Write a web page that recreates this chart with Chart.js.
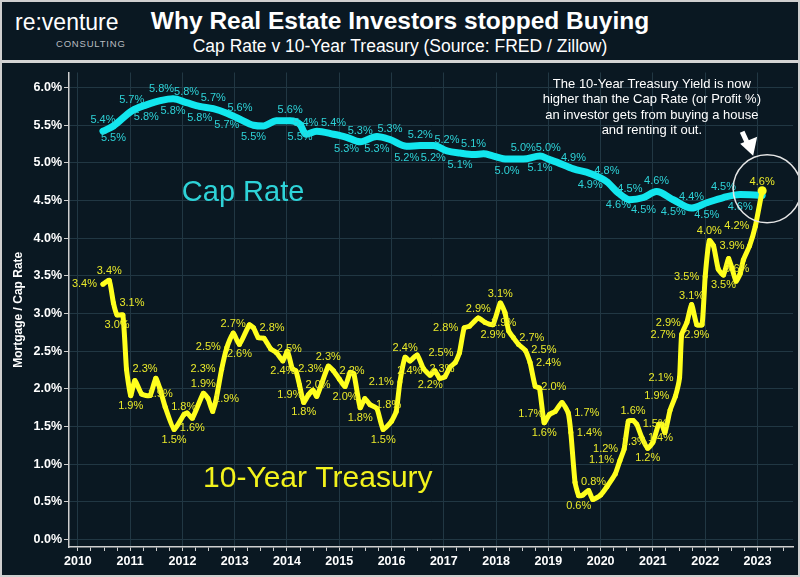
<!DOCTYPE html>
<html>
<head>
<meta charset="utf-8">
<script src="https://cdn.jsdelivr.net/npm/chart.js@4.4.1/dist/chart.umd.min.js"></script>
<style>
  html, body { margin: 0; padding: 0; background: #0a1822; }
  #wrap { position: absolute; left: 0; top: 0; width: 800px; height: 577px; box-sizing: border-box;
          border: 2px solid #cfcfcf; background: #0a1822; font-family: Arial, "Liberation Sans", sans-serif; }
  #head { position: relative; height: 58px; border-bottom: 3px solid #d4d4d4; }
  #logo1 { position: absolute; left: 13px; top: 7px; color: #fff; font-size: 23px; }
  #logo2 { position: absolute; left: 54px; top: 36px; color: #b8bcc0; font-size: 9.5px; letter-spacing: 0.8px; }
  #title { position: absolute; left: 0; width: 796px; top: 5px; text-align: center; color: #fff;
           font-size: 24.5px; font-weight: bold; }
  #sub { position: absolute; left: 0; width: 796px; top: 34px; text-align: center; color: #fff; font-size: 17.5px; }
  #box { position: relative; width: 796px; height: 512px; }
</style>
</head>
<body>
<div id="wrap">
  <div id="head">
    <div id="logo1">re:venture</div>
    <div id="logo2">CONSULTING</div>
    <div id="title">Why Real Estate Investors stopped Buying</div>
    <div id="sub">Cap Rate v 10-Year Treasury (Source: FRED / Zillow)</div>
  </div>
  <div id="box"><canvas id="chart"></canvas></div>
</div>
<script>
// cap rate (Zillow)
const capYears = [2010.48, 2010.68, 2011.03, 2011.31, 2011.60, 2011.82, 2012.08, 2012.33, 2012.59, 2012.85,
  2013.10, 2013.36, 2013.55, 2013.80, 2014.06, 2014.25, 2014.36, 2014.57, 2014.89, 2015.14,
  2015.40, 2015.72, 2015.97, 2016.29, 2016.55, 2016.80, 2017.06, 2017.31, 2017.57, 2017.76,
  2017.95, 2018.21, 2018.52, 2018.84, 2019.00, 2019.16, 2019.48, 2019.80, 2020.12, 2020.34,
  2020.56, 2020.82, 2021.07, 2021.39, 2021.74, 2022.03, 2022.35, 2022.67, 2023.09];
const capRate = [5.42, 5.49, 5.69, 5.77, 5.83, 5.85, 5.80, 5.75, 5.72, 5.66,
  5.58, 5.50, 5.49, 5.56, 5.56, 5.51, 5.38, 5.42, 5.38, 5.34,
  5.28, 5.35, 5.31, 5.22, 5.23, 5.23, 5.16, 5.13, 5.11, 5.12,
  5.09, 5.05, 5.05, 5.09, 5.05, 5.01, 4.92, 4.86, 4.75, 4.60,
  4.51, 4.54, 4.62, 4.51, 4.40, 4.47, 4.54, 4.58, 4.57];

// 10-year treasury yield (FRED)
const tsyYears = [2010.48, 2010.60, 2010.68, 2010.75, 2010.86, 2010.93, 2011.01, 2011.09, 2011.22, 2011.38,
  2011.49, 2011.57, 2011.67, 2011.84, 2012.03, 2012.09, 2012.19, 2012.40, 2012.49, 2012.58,
  2012.65, 2012.75, 2012.85, 2012.97, 2013.09, 2013.28, 2013.36, 2013.45, 2013.56, 2013.69,
  2013.80, 2013.92, 2014.01, 2014.10, 2014.17, 2014.24, 2014.32, 2014.41, 2014.50, 2014.57,
  2014.79, 2014.89, 2015.00, 2015.11, 2015.21, 2015.28, 2015.40, 2015.49, 2015.59, 2015.72,
  2015.84, 2016.00, 2016.09, 2016.16, 2016.26, 2016.35, 2016.49, 2016.61, 2016.74, 2016.83,
  2016.92, 2017.02, 2017.12, 2017.22, 2017.30, 2017.39, 2017.49, 2017.66, 2017.79, 2017.94,
  2018.08, 2018.17, 2018.24, 2018.33, 2018.43, 2018.56, 2018.65, 2018.75, 2018.83, 2018.92,
  2019.02, 2019.13, 2019.26, 2019.38, 2019.43, 2019.51, 2019.58, 2019.66, 2019.77, 2019.85,
  2020.00, 2020.12, 2020.28, 2020.37, 2020.45, 2020.53, 2020.62, 2020.69, 2020.79, 2020.90,
  2021.00, 2021.11, 2021.17, 2021.23, 2021.33, 2021.43, 2021.51, 2021.55, 2021.65, 2021.74,
  2021.84, 2021.94, 2022.00, 2022.08, 2022.16, 2022.25, 2022.35, 2022.45, 2022.59, 2022.67,
  2022.73, 2022.85, 2022.96, 2023.09];
const tsyRate = [3.39, 3.44, 3.14, 2.98, 2.98, 2.26, 1.91, 2.11, 1.93, 1.91,
  2.14, 2.00, 1.76, 1.46, 1.66, 1.68, 1.61, 1.94, 1.87, 1.70,
  1.88, 2.26, 2.55, 2.74, 2.59, 2.85, 2.81, 2.68, 2.67, 2.53,
  2.48, 2.37, 2.50, 2.27, 2.24, 2.05, 1.82, 1.92, 1.98, 1.90,
  2.30, 2.24, 2.13, 2.03, 2.22, 2.20, 1.75, 1.87, 1.79, 1.74,
  1.46, 1.57, 1.70, 2.09, 2.42, 2.37, 2.45, 2.27, 2.18, 2.24,
  2.14, 2.16, 2.29, 2.35, 2.48, 2.81, 2.83, 2.94, 2.88, 2.85,
  3.14, 3.01, 2.77, 2.68, 2.59, 2.51, 2.35, 2.03, 2.01, 1.55,
  1.66, 1.70, 1.82, 1.68, 1.42, 0.76, 0.58, 0.59, 0.65, 0.53,
  0.59, 0.70, 0.87, 1.05, 1.20, 1.57, 1.58, 1.53, 1.35, 1.21,
  1.29, 1.53, 1.53, 1.42, 1.72, 1.90, 2.15, 2.72, 2.88, 3.12,
  2.85, 2.85, 3.49, 3.97, 3.90, 3.59, 3.51, 3.73, 3.43, 3.53,
  3.71, 3.90, 4.16, 4.63];

const noteLines = ['The 10-Year Treasury Yield is now', 'higher than the Cap Rate (or Profit %)',
  'an investor gets from buying a house', 'and renting it out.'];

const CAP = '#12e6ee', CAP_TXT = '#2ed3d8';
const TSY = '#ffff1e', TSY_TXT = '#eaea2a';

const capPoints = capYears.map((x, i) => ({ x, y: capRate[i] }));
const tsyPoints = tsyYears.map((x, i) => ({ x, y: tsyRate[i] }));

function isWhole(v) { return Math.abs(v - Math.round(v)) < 1e-6; }

// where a value label goes, relative to its point
function spotFor(mode, data, i) {
  if (mode === 'alt') return i % 2 === 0 ? 'top' : 'bottom';
  if (i === data.length - 1) return 'top';
  const v = data[i].y;
  const p = i > 0 ? data[i - 1].y : null;
  const n = data[i + 1].y;
  if (p === null) return 'left';
  if (v >= p && v >= n) return 'top';
  if (v <= p && v <= n) return 'bottom';
  return v > p ? 'left' : 'right';
}

const valueLabels = {
  id: 'valueLabels',
  afterDatasetsDraw(chart) {
    const ctx = chart.ctx;
    ctx.save();
    ctx.font = '11px Arial';
    ctx.textBaseline = 'middle';
    const boxes = [];
    const jobs = [];
    chart.data.datasets.forEach((ds, di) => {
      const meta = chart.getDatasetMeta(di);
      meta.data.forEach((el, i) => jobs.push({ ds, el, i, pri: (ds.labelMode === 'turns' && i === ds.data.length - 1) ? 0 : 1 }));
    });
    jobs.sort((a, b) => a.pri - b.pri);
    jobs.forEach(({ ds, el, i }) => {
      const text = ds.data[i].y.toFixed(1) + '%';
      const w = ctx.measureText(text).width, h = 11;
      const spot = spotFor(ds.labelMode, ds.data, i);
      let cx = el.x, cy = el.y;
      const gap = ds.labelMode === 'alt' ? 11 : 9;
      if (spot === 'top') cy -= gap;
      else if (spot === 'bottom') cy += gap + 1;
      else if (spot === 'left') cx -= 6 + w / 2;
      else cx += 6 + w / 2;
      const b = { x1: cx - w / 2, x2: cx + w / 2, y1: cy - h / 2, y2: cy + h / 2 };
      if (boxes.some(o => b.x1 < o.x2 && b.x2 > o.x1 && b.y1 < o.y2 && b.y2 > o.y1)) return;
      boxes.push(b);
      ctx.fillStyle = ds.labelColor;
      ctx.textAlign = 'center';
      ctx.fillText(text, cx, cy);
    });
    ctx.restore();
  }
};

const notes = {
  id: 'notes',
  afterDraw(chart) {
    const { ctx, scales: { x, y } } = chart;
    ctx.save();
    ctx.textAlign = 'center';
    ctx.textBaseline = 'middle';
    ctx.fillStyle = CAP_TXT;
    ctx.font = '29px Arial';
    ctx.fillText('Cap Rate', x.getPixelForValue(2013.16), y.getPixelForValue(4.6));
    ctx.fillStyle = '#f2f21c';
    ctx.font = '30px Arial';
    ctx.fillText('10-Year Treasury', x.getPixelForValue(2014.59), y.getPixelForValue(0.81));

    ctx.fillStyle = '#ffffff';
    ctx.font = '13px Arial';
    noteLines.forEach((t, k) => ctx.fillText(t, x.getPixelForValue(2020.98), y.getPixelForValue(6.0) - 3 + k * 15.3));

    // circle and arrow round the last treasury point
    const last = tsyPoints.length - 1;
    const px = x.getPixelForValue(tsyPoints[last].x), py = y.getPixelForValue(tsyPoints[last].y);
    ctx.strokeStyle = '#e6e6e6';
    ctx.lineWidth = 1.5;
    ctx.beginPath();
    ctx.arc(px + 5, py - 2, 34, 0, Math.PI * 2);
    ctx.stroke();

    ctx.strokeStyle = '#ffffff';
    ctx.fillStyle = '#ffffff';
    ctx.lineWidth = 5;
    ctx.lineCap = 'butt';
    ctx.beginPath();
    ctx.moveTo(px - 20, py - 59);
    ctx.lineTo(px - 14, py - 46);
    ctx.stroke();
    ctx.beginPath();
    ctx.moveTo(px - 22, py - 47);
    ctx.lineTo(px - 5, py - 54);
    ctx.lineTo(px - 9, py - 35);
    ctx.closePath();
    ctx.fill();
    ctx.restore();
  }
};

const grid = '#213743';
new Chart(document.getElementById('chart'), {
  type: 'line',
  data: {
    datasets: [{
      label: '10-Year Treasury',
      data: tsyPoints,
      borderColor: TSY,
      backgroundColor: TSY,
      borderWidth: 5,
      tension: 0.15,
      borderJoinStyle: 'round',
      borderCapStyle: 'round',
      pointRadius: c => c.dataIndex === tsyPoints.length - 1 ? 4.5 : 2.5,
      pointBorderWidth: 0,
      labelMode: 'turns',
      labelColor: TSY_TXT,
      order: 0
    }, {
      label: 'Cap Rate',
      data: capPoints,
      borderColor: CAP,
      backgroundColor: CAP,
      borderWidth: 7,
      cubicInterpolationMode: 'monotone',
      borderJoinStyle: 'round',
      borderCapStyle: 'round',
      pointRadius: 3,
      pointBorderWidth: 0,
      labelMode: 'alt',
      labelColor: CAP_TXT,
      order: 1
    }]
  },
  options: {
    responsive: true,
    maintainAspectRatio: false,
    animation: false,
    layout: { padding: { top: 3, right: 5, left: 0, bottom: 0 } },
    plugins: { legend: { display: false }, tooltip: { enabled: false } },
    scales: {
      x: {
        type: 'linear',
        min: 2009.83,
        max: 2023.68,
        border: { color: '#cfcfcf', width: 1.5 },
        grid: {
          color: c => isWhole(c.tick.value) ? grid : 'rgba(0,0,0,0)',
          tickColor: '#cfcfcf',
          tickLength: 4
        },
        ticks: {
          stepSize: 0.25,
          includeBounds: false,
          autoSkip: false,
          maxRotation: 0,
          padding: 3,
          color: '#ffffff',
          font: { family: 'Arial', size: 12.5, weight: 'bold' },
          callback: v => isWhole(v) ? String(Math.round(v)) : ''
        },
        afterFit: s => { s.height = 28; }
      },
      y: {
        min: -0.1,
        max: 6.2,
        border: { color: '#cfcfcf', width: 1.5 },
        grid: { color: grid, tickColor: '#cfcfcf', tickLength: 5 },
        ticks: {
          stepSize: 0.5,
          includeBounds: false,
          padding: 2,
          color: '#ffffff',
          font: { family: 'Arial', size: 12.5, weight: 'bold' },
          callback: v => v.toFixed(1) + '%'
        },
        title: {
          display: true,
          text: 'Mortgage / Cap Rate',
          color: '#ffffff',
          font: { family: 'Arial', size: 12, weight: 'bold' },
          padding: { top: 9, bottom: 0 }
        },
        afterFit: s => { s.width = 67; }
      }
    }
  },
  plugins: [valueLabels, notes]
});
</script>
</body>
</html>
